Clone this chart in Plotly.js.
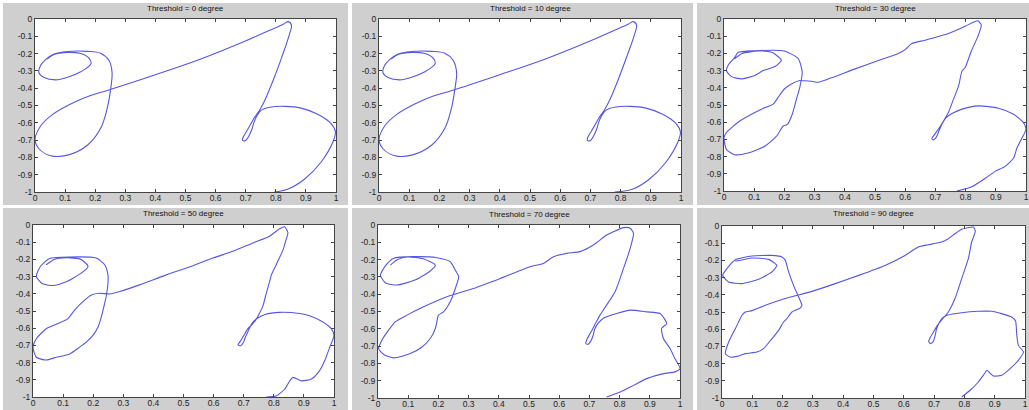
<!DOCTYPE html>
<html><head><meta charset="utf-8">
<script src="https://cdn.plot.ly/plotly-3.0.1.min.js"></script>
<style>html,body{margin:0;padding:0;background:#fff}#chart{width:1029px;height:410px}</style>
</head><body><div id="chart"></div>
<script>
// ---------- data (traced pen path for each threshold) ----------
const thr0X = [0.040,0.063,0.108,0.152,0.180,0.186,0.152,0.108,0.069,0.030,0.013,0.018,0.035,0.060,0.108,0.174,0.218,0.246,0.256,0.252,0.240,0.218,0.174,0.108,0.052,0.013,0.000,0.018,0.060,0.120,0.180,0.245,0.400,0.551,0.695,0.780,0.825,0.841,0.852,0.845,0.820,0.790,0.762,0.745,0.731,0.716,0.701,0.691,0.690,0.700,0.711,0.720,0.728,0.737,0.752,0.780,0.830,0.884,0.939,0.983,0.998,0.990,0.950,0.895,0.839,0.795];
const thr0Y = [-0.232,-0.205,-0.193,-0.200,-0.228,-0.258,-0.305,-0.337,-0.352,-0.338,-0.310,-0.270,-0.235,-0.205,-0.188,-0.187,-0.198,-0.240,-0.310,-0.397,-0.515,-0.632,-0.730,-0.787,-0.790,-0.750,-0.700,-0.620,-0.550,-0.490,-0.445,-0.410,-0.322,-0.231,-0.130,-0.065,-0.030,-0.015,-0.035,-0.090,-0.220,-0.360,-0.476,-0.530,-0.564,-0.610,-0.655,-0.685,-0.702,-0.702,-0.675,-0.640,-0.595,-0.560,-0.527,-0.510,-0.505,-0.515,-0.550,-0.603,-0.652,-0.710,-0.828,-0.926,-0.984,-1.000];

const thr10X = [0.040,0.063,0.108,0.152,0.180,0.186,0.152,0.108,0.069,0.030,0.013,0.018,0.035,0.060,0.108,0.174,0.218,0.246,0.257,0.252,0.240,0.218,0.174,0.108,0.052,0.013,0.000,0.018,0.060,0.120,0.180,0.242,0.400,0.551,0.695,0.780,0.825,0.842,0.853,0.846,0.820,0.790,0.762,0.745,0.731,0.716,0.701,0.691,0.690,0.700,0.711,0.720,0.728,0.737,0.752,0.780,0.830,0.884,0.939,0.983,0.998,0.990,0.950,0.895,0.839,0.780];
const thr10Y = [-0.232,-0.205,-0.193,-0.200,-0.228,-0.258,-0.305,-0.337,-0.352,-0.338,-0.310,-0.270,-0.235,-0.205,-0.188,-0.187,-0.198,-0.240,-0.310,-0.397,-0.515,-0.632,-0.730,-0.787,-0.790,-0.750,-0.700,-0.620,-0.550,-0.490,-0.445,-0.413,-0.322,-0.231,-0.130,-0.065,-0.030,-0.015,-0.035,-0.090,-0.220,-0.360,-0.476,-0.530,-0.564,-0.610,-0.655,-0.685,-0.702,-0.702,-0.675,-0.640,-0.595,-0.560,-0.527,-0.510,-0.505,-0.515,-0.550,-0.603,-0.652,-0.710,-0.828,-0.926,-0.984,-1.000];

const thr30X = [0.035,0.060,0.113,0.160,0.190,0.170,0.130,0.100,0.058,0.025,0.008,0.015,0.035,0.046,0.100,0.200,0.246,0.259,0.251,0.240,0.226,0.210,0.196,0.174,0.135,0.080,0.035,0.008,0.000,0.008,0.052,0.124,0.163,0.179,0.200,0.223,0.251,0.290,0.312,0.356,0.434,0.511,0.577,0.600,0.622,0.666,0.743,0.800,0.840,0.852,0.840,0.820,0.799,0.788,0.777,0.760,0.743,0.727,0.712,0.697,0.688,0.693,0.702,0.712,0.722,0.735,0.755,0.788,0.843,0.909,0.959,0.992,1.000,0.987,0.970,0.959,0.931,0.898,0.865,0.821,0.771];
const thr30Y = [-0.231,-0.200,-0.186,-0.195,-0.240,-0.275,-0.300,-0.330,-0.348,-0.335,-0.300,-0.265,-0.225,-0.195,-0.185,-0.186,-0.231,-0.309,-0.397,-0.466,-0.554,-0.613,-0.622,-0.681,-0.740,-0.779,-0.789,-0.759,-0.690,-0.660,-0.593,-0.524,-0.495,-0.456,-0.407,-0.378,-0.358,-0.362,-0.368,-0.342,-0.290,-0.241,-0.200,-0.178,-0.143,-0.123,-0.084,-0.041,-0.010,-0.035,-0.104,-0.182,-0.280,-0.303,-0.387,-0.466,-0.544,-0.593,-0.635,-0.672,-0.695,-0.703,-0.690,-0.650,-0.610,-0.575,-0.550,-0.524,-0.505,-0.519,-0.554,-0.603,-0.642,-0.691,-0.750,-0.808,-0.857,-0.886,-0.926,-0.975,-1.000];

const thr50X = [0.044,0.070,0.111,0.160,0.183,0.160,0.110,0.066,0.030,0.011,0.025,0.055,0.122,0.210,0.238,0.249,0.249,0.244,0.238,0.227,0.216,0.199,0.177,0.155,0.122,0.078,0.044,0.011,0.000,0.011,0.044,0.083,0.116,0.138,0.166,0.194,0.221,0.255,0.288,0.354,0.443,0.532,0.554,0.598,0.664,0.731,0.786,0.819,0.836,0.847,0.842,0.831,0.808,0.792,0.786,0.775,0.764,0.752,0.741,0.727,0.714,0.698,0.688,0.681,0.690,0.700,0.706,0.714,0.727,0.744,0.771,0.820,0.886,0.919,0.963,0.991,1.000,0.986,0.969,0.952,0.925,0.891,0.864,0.853,0.836,0.808,0.775];
const thr50Y = [-0.231,-0.200,-0.190,-0.200,-0.241,-0.280,-0.330,-0.352,-0.340,-0.299,-0.240,-0.195,-0.186,-0.192,-0.231,-0.290,-0.339,-0.407,-0.456,-0.534,-0.593,-0.642,-0.681,-0.710,-0.750,-0.769,-0.785,-0.769,-0.710,-0.661,-0.603,-0.573,-0.544,-0.495,-0.446,-0.407,-0.397,-0.401,-0.387,-0.348,-0.290,-0.237,-0.221,-0.192,-0.153,-0.104,-0.065,-0.022,-0.010,-0.045,-0.078,-0.143,-0.231,-0.290,-0.329,-0.397,-0.470,-0.515,-0.550,-0.580,-0.602,-0.649,-0.678,-0.696,-0.702,-0.680,-0.650,-0.620,-0.573,-0.544,-0.520,-0.508,-0.515,-0.528,-0.564,-0.603,-0.642,-0.710,-0.789,-0.847,-0.896,-0.906,-0.886,-0.906,-0.955,-0.994,-1.000];

const thr70X = [0.041,0.065,0.096,0.150,0.190,0.170,0.120,0.063,0.025,0.008,0.025,0.052,0.118,0.195,0.239,0.256,0.267,0.256,0.239,0.217,0.200,0.195,0.190,0.173,0.146,0.107,0.052,0.019,0.002,0.013,0.035,0.057,0.096,0.151,0.228,0.316,0.405,0.504,0.548,0.581,0.625,0.669,0.713,0.757,0.779,0.813,0.835,0.846,0.835,0.813,0.785,0.757,0.735,0.720,0.705,0.692,0.688,0.695,0.705,0.712,0.718,0.728,0.745,0.790,0.835,0.890,0.934,0.956,0.939,0.945,0.967,0.983,1.000,0.983,0.945,0.890,0.846,0.802,0.757];
const thr70Y = [-0.232,-0.200,-0.185,-0.195,-0.232,-0.270,-0.320,-0.347,-0.335,-0.290,-0.235,-0.192,-0.183,-0.189,-0.212,-0.261,-0.299,-0.367,-0.444,-0.502,-0.521,-0.560,-0.598,-0.656,-0.705,-0.743,-0.768,-0.749,-0.714,-0.666,-0.608,-0.560,-0.521,-0.473,-0.415,-0.367,-0.309,-0.241,-0.222,-0.183,-0.164,-0.154,-0.116,-0.058,-0.039,-0.015,-0.019,-0.048,-0.135,-0.251,-0.386,-0.463,-0.521,-0.570,-0.620,-0.660,-0.685,-0.690,-0.670,-0.640,-0.600,-0.570,-0.540,-0.512,-0.492,-0.502,-0.512,-0.569,-0.598,-0.656,-0.714,-0.772,-0.830,-0.849,-0.859,-0.888,-0.927,-0.965,-0.994];

const thr90X = [0.044,0.099,0.154,0.181,0.165,0.121,0.066,0.022,0.002,0.016,0.044,0.099,0.165,0.198,0.209,0.220,0.236,0.253,0.264,0.258,0.231,0.214,0.203,0.187,0.165,0.137,0.115,0.077,0.055,0.027,0.011,0.022,0.044,0.066,0.077,0.099,0.143,0.209,0.297,0.374,0.451,0.538,0.604,0.648,0.681,0.725,0.747,0.769,0.791,0.830,0.836,0.824,0.813,0.791,0.769,0.747,0.728,0.712,0.700,0.688,0.682,0.688,0.697,0.703,0.708,0.716,0.728,0.745,0.791,0.846,0.890,0.956,0.969,0.973,0.978,0.995,0.978,0.951,0.923,0.896,0.874,0.866,0.846,0.819,0.791];
const thr90Y = [-0.205,-0.186,-0.194,-0.229,-0.267,-0.310,-0.335,-0.326,-0.287,-0.248,-0.196,-0.174,-0.171,-0.180,-0.200,-0.267,-0.345,-0.413,-0.461,-0.477,-0.500,-0.539,-0.558,-0.607,-0.655,-0.713,-0.733,-0.742,-0.756,-0.762,-0.742,-0.674,-0.597,-0.519,-0.500,-0.492,-0.461,-0.422,-0.380,-0.335,-0.287,-0.229,-0.171,-0.122,-0.109,-0.093,-0.074,-0.045,-0.019,-0.006,-0.030,-0.093,-0.190,-0.306,-0.422,-0.500,-0.540,-0.575,-0.610,-0.645,-0.670,-0.684,-0.672,-0.640,-0.600,-0.565,-0.535,-0.518,-0.504,-0.496,-0.496,-0.529,-0.554,-0.636,-0.694,-0.733,-0.781,-0.829,-0.868,-0.872,-0.839,-0.859,-0.907,-0.955,-0.994];

const panelTitles = ['Threshold = 0 degree','Threshold = 10 degree','Threshold = 30 degree','Threshold = 50 degree','Threshold = 70 degree','Threshold = 90 degree'];
const xTickVals = [0,0.1,0.2,0.3,0.4,0.5,0.6,0.7,0.8,0.9,1];
const xTickText = ['0','0.1','0.2','0.3','0.4','0.5','0.6','0.7','0.8','0.9','1'];
const yTickVals = [-1,-0.9,-0.8,-0.7,-0.6,-0.5,-0.4,-0.3,-0.2,-0.1,0];
const yTickText = ['-1','-0.9','-0.8','-0.7','-0.6','-0.5','-0.4','-0.3','-0.2','-0.1','0'];

// ---------- geometry / style ----------
const W = 1029, H = 410;
const seriesX = [thr0X, thr10X, thr30X, thr50X, thr70X, thr90X];
const seriesY = [thr0Y, thr10Y, thr30Y, thr50Y, thr70Y, thr90Y];
const axesPx  = [[35,336,19,192],[379,681,19,192],[724,1026,19,191],[33,334,225,397],[378,680,225,398],[722,1025,226,398]];
const panelPx = [[3,348,3,205],[352,693,3,205],[697,1029,3,205],[3,348,208,410],[352,693,208,410],[697,1029,208,410]];
const titleYPx = [8,8,8,213,214,213];
const smooth = [1.0,1.0,0.6,0.6,0.6,0.5];

const px = v => v / W, py = v => 1 - v / H;
const font = {family: 'Liberation Sans, Arial, sans-serif', size: 8.5, color: '#222'};

const traces = [], shapes = [], annotations = [];
const layout = {
  width: W, height: H, margin: {l:0, r:0, t:0, b:0},
  paper_bgcolor: '#ffffff', plot_bgcolor: 'rgba(0,0,0,0)', showlegend: false,
  font: font
};
for (let i = 0; i < 6; i++) {
  const n = i === 0 ? '' : String(i + 1);
  const [x0, x1, y0, y1] = axesPx[i];
  const [gx0, gx1, gy0, gy1] = panelPx[i];
  traces.push({
    x: seriesX[i], y: seriesY[i], type: 'scatter', mode: 'lines',
    xaxis: 'x' + n, yaxis: 'y' + n,
    line: {color: '#5656e2', width: 1.1, shape: 'spline', smoothing: smooth[i]},
    hoverinfo: 'skip'
  });
  layout['xaxis' + n] = {
    domain: [px(x0), px(x1)], range: [0, 1], anchor: 'y' + n,
    tickmode: 'array', tickvals: xTickVals, ticktext: xTickText,
    ticks: 'inside', ticklen: 3, tickcolor: '#444', mirror: 'ticks',
    showline: true, linecolor: '#444', linewidth: 1, ticklabelstandoff: -2,
    showgrid: false, zeroline: false, fixedrange: true, tickfont: font
  };
  layout['yaxis' + n] = {
    domain: [py(y1), py(y0)], range: [-1, 0], anchor: 'x' + n,
    tickmode: 'array', tickvals: yTickVals, ticktext: yTickText,
    ticks: 'inside', ticklen: 3, tickcolor: '#444', mirror: 'ticks',
    showline: true, linecolor: '#444', linewidth: 1,
    showgrid: false, zeroline: false, fixedrange: true, tickfont: font
  };
  shapes.push({type: 'rect', xref: 'paper', yref: 'paper', layer: 'below',
    x0: px(gx0), x1: px(gx1), y0: py(gy1), y1: py(gy0),
    fillcolor: '#cfcfcf', line: {width: 0}});
  shapes.push({type: 'rect', xref: 'paper', yref: 'paper', layer: 'below',
    x0: px(x0), x1: px(x1), y0: py(y1), y1: py(y0),
    fillcolor: '#ffffff', line: {width: 0}});
  annotations.push({text: panelTitles[i], xref: 'paper', yref: 'paper',
    x: px((x0 + x1) / 2), y: py(titleYPx[i]), xanchor: 'center', yanchor: 'middle',
    showarrow: false, font: {family: font.family, size: 8, color: '#111'}});
}
layout.shapes = shapes;
layout.annotations = annotations;
Plotly.newPlot('chart', traces, layout, {staticPlot: true, displayModeBar: false});
</script>
</body></html>
